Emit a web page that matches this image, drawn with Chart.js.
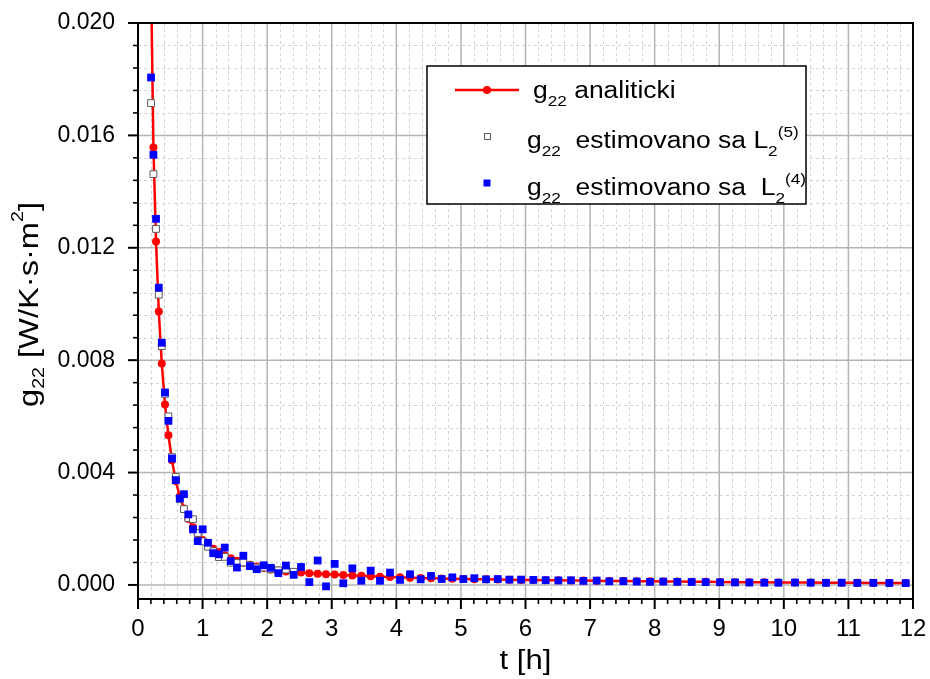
<!DOCTYPE html>
<html>
<head>
<meta charset="utf-8">
<script src="https://cdn.jsdelivr.net/npm/chart.js@4.4.1/dist/chart.umd.min.js"></script>
<style>
  html, body { margin: 0; padding: 0; background: #ffffff; }
  canvas { display: block; }
</style>
</head>
<body>
<canvas id="chart" width="930" height="679"></canvas>
<script>
// Sampling times [h]
const timeH = [
  0.202, 0.239, 0.279, 0.322, 0.368, 0.418, 0.471, 0.526, 0.585, 0.647,
  0.712, 0.780, 0.851, 0.925, 1.002, 1.083, 1.166, 1.253, 1.343, 1.436,
  1.532, 1.631, 1.733, 1.838, 1.947, 2.058, 2.173, 2.290, 2.411, 2.524,
  2.653, 2.782, 2.911, 3.045, 3.179, 3.319, 3.458, 3.603, 3.747, 3.902,
  4.057, 4.212, 4.377, 4.537, 4.702, 4.867, 5.038, 5.208, 5.389, 5.570,
  5.750, 5.931, 6.122, 6.313, 6.509, 6.705, 6.896, 7.102, 7.298, 7.515,
  7.722, 7.928, 8.134, 8.351, 8.573, 8.790, 9.012, 9.244, 9.466, 9.698,
  9.915, 10.173, 10.416, 10.653, 10.896, 11.138, 11.386, 11.634, 11.887
];

// g22 analiticki [W/K·s·m²]
const g22Analytic = [
  0.02150, 0.01557, 0.01222, 0.00973, 0.00788, 0.00642, 0.00533, 0.00444, 0.00370, 0.00315,
  0.00272, 0.00235, 0.00205, 0.00181, 0.00160, 0.00143, 0.00129, 0.00117, 0.00106, 0.00095,
  0.00086, 0.00079, 0.00072, 0.00066, 0.00060, 0.00055, 0.00051, 0.00048, 0.00046, 0.00044,
  0.000420, 0.000400, 0.000385, 0.000370, 0.000355, 0.000340, 0.000325, 0.000310, 0.000295, 0.000280,
  0.000270, 0.000260, 0.000250, 0.000240, 0.000230, 0.000220, 0.000215, 0.000205, 0.000200, 0.000190,
  0.000185, 0.000180, 0.000175, 0.000170, 0.000165, 0.000160, 0.000155, 0.000150, 0.000145, 0.000140,
  0.000135, 0.000130, 0.000125, 0.000120, 0.000115, 0.000110, 0.000105, 0.000100, 0.000097, 0.000094,
  0.000091, 0.000088, 0.000085, 0.000082, 0.000079, 0.000076, 0.000073, 0.000070, 0.000068
];

// g22 estimovano sa L2(5)
const g22EstL5 = [
  0.01715, 0.01462, 0.01267, 0.01033, 0.00850, 0.00680, 0.00600, 0.00455, 0.00385, 0.00305,
  0.00270, 0.00238, 0.00234, 0.00185, 0.00155, 0.00136, 0.00120, 0.00099, 0.00100, 0.00079,
  0.00078, 0.00080, 0.00070, 0.00062, 0.00062, 0.00056, 0.00052, 0.00055, 0.00047
];

// g22 estimovano sa L2(4)
const g22EstL4 = [
  0.01806, 0.01531, 0.01303, 0.01058, 0.00862, 0.00685, 0.00584, 0.00450, 0.00373, 0.00308,
  0.00323, 0.00251, 0.00198, 0.00156, 0.00198, 0.00150, 0.00113, 0.00109, 0.00133, 0.00085,
  0.00062, 0.00104, 0.00067, 0.00056, 0.00070, 0.00061, 0.00042, 0.00069, 0.00036, 0.00064,
  0.000100, 0.000870, -0.000050, 0.000750, 0.000060, 0.000590, 0.000150, 0.000510, 0.000150, 0.000440,
  0.000180, 0.000380, 0.000200, 0.000320, 0.000210, 0.000270, 0.000210, 0.000240, 0.000200, 0.000210,
  0.000190, 0.000190, 0.000180, 0.000170, 0.000160, 0.000165, 0.000145, 0.000155, 0.000130, 0.000135,
  0.000120, 0.000110, 0.000120, 0.000110, 0.000105, 0.000100, 0.000095, 0.000090, 0.000085, 0.000080,
  0.000080, 0.000085, 0.000080, 0.000075, 0.000080, 0.000070, 0.000075, 0.000070, 0.000065
];

const xTickValues = [0, 1, 2, 3, 4, 5, 6, 7, 8, 9, 10, 11, 12];
const yTickValues = [0, 0.004, 0.008, 0.012, 0.016, 0.020];

const FONT = "'Liberation Sans', Arial, Helvetica, sans-serif";
const X_MINOR = 0.2;      // minor step on the time axis
const Y_MINOR = 0.0008;   // minor step on the g22 axis

const toPoints = (values) => values.map((v, i) => ({ x: timeH[i], y: v }));

// Draws a run of text pieces (normal / subscript / superscript) from a baseline origin
function drawRich(ctx, runs, size, stretch) {
  ctx.save();
  ctx.scale(stretch, 1);
  ctx.textBaseline = 'alphabetic';
  ctx.textAlign = 'left';
  let cx = 0;
  for (const r of runs) {
    const fs = r.sub || r.sup ? size * (r.scale || 0.65) : size;
    ctx.font = fs + 'px ' + FONT;
    const dy = r.sub ? size * (r.dy || 0.34) : r.sup ? -size * (r.dy || 0.5) : 0;
    ctx.fillText(r.t, cx, dy);
    cx += ctx.measureText(r.t).width;
  }
  ctx.restore();
}

function richWidth(ctx, runs, size) {
  let w = 0;
  ctx.save();
  for (const r of runs) {
    const fs = r.sub || r.sup ? size * (r.scale || 0.65) : size;
    ctx.font = fs + 'px ' + FONT;
    w += ctx.measureText(r.t).width;
  }
  ctx.restore();
  return w;
}

const frameAndGrid = {
  id: 'frameAndGrid',
  beforeDatasetsDraw(chart) {
    const { ctx, chartArea: a, scales: { x, y } } = chart;
    ctx.save();
    // minor grid, dashed
    ctx.strokeStyle = '#d2d2d2';
    ctx.lineWidth = 1;
    ctx.setLineDash([3, 3]);
    ctx.beginPath();
    for (let i = 1; i < Math.round(12 / X_MINOR); i++) {
      if (i % 5 === 0) continue;
      const px = Math.round(x.getPixelForValue(i * X_MINOR)) + 0.5;
      ctx.moveTo(px, a.top); ctx.lineTo(px, a.bottom);
    }
    for (let j = 1; j < Math.round(0.020 / Y_MINOR); j++) {
      if (j % 5 === 0) continue;
      const py = Math.round(y.getPixelForValue(j * Y_MINOR)) + 0.5;
      ctx.moveTo(a.left, py); ctx.lineTo(a.right, py);
    }
    ctx.stroke();
    // major grid, solid
    ctx.setLineDash([]);
    ctx.strokeStyle = '#b5b5b5';
    ctx.lineWidth = 1.5;
    ctx.beginPath();
    xTickValues.slice(1, -1).forEach(v => {
      const px = x.getPixelForValue(v);
      ctx.moveTo(px, a.top); ctx.lineTo(px, a.bottom);
    });
    yTickValues.slice(0, -1).forEach(v => {
      const py = y.getPixelForValue(v);
      ctx.moveTo(a.left, py); ctx.lineTo(a.right, py);
    });
    ctx.stroke();
    ctx.restore();
  },
  afterDatasetsDraw(chart) {
    const { ctx, chartArea: a, scales: { x, y } } = chart;
    ctx.save();
    // frame
    ctx.strokeStyle = '#000000';
    ctx.lineWidth = 2;
    ctx.strokeRect(a.left, a.top, a.right - a.left, a.bottom - a.top);
    // tick marks on the bottom axis
    for (let i = 0; i <= Math.round(12 / X_MINOR); i++) {
      const major = i % 5 === 0;
      const px = x.getPixelForValue(i * X_MINOR);
      ctx.lineWidth = major ? 2 : 1.6;
      ctx.beginPath();
      ctx.moveTo(px, a.bottom); ctx.lineTo(px, a.bottom + (major ? 10 : 5));
      ctx.stroke();
    }
    // tick marks on the left axis
    for (let j = 0; j <= Math.round(0.020 / Y_MINOR); j++) {
      const major = j % 5 === 0;
      const py = y.getPixelForValue(j * Y_MINOR);
      ctx.lineWidth = major ? 2 : 1.6;
      ctx.beginPath();
      ctx.moveTo(a.left, py); ctx.lineTo(a.left - (major ? 10 : 5), py);
      ctx.stroke();
    }

    // legend
    const lx = 427, ly = 66, lw = 379, lh = 138;
    ctx.fillStyle = '#ffffff';
    ctx.fillRect(lx, ly, lw, lh);
    ctx.lineWidth = 1.5;
    ctx.strokeStyle = '#000000';
    ctx.strokeRect(lx, ly, lw, lh);

    const ds = chart.data.datasets;
    // row 1: line with dot
    ctx.strokeStyle = ds[0].borderColor;
    ctx.lineWidth = 2.5;
    ctx.beginPath(); ctx.moveTo(455, 90); ctx.lineTo(519, 90); ctx.stroke();
    ctx.fillStyle = ds[0].pointBackgroundColor;
    ctx.beginPath(); ctx.arc(487, 90, 4, 0, Math.PI * 2); ctx.fill();
    // row 2: open square
    ctx.fillStyle = ds[1].pointBackgroundColor;
    ctx.strokeStyle = ds[1].pointBorderColor;
    ctx.lineWidth = 1;
    ctx.fillRect(484, 133, 7, 7);
    ctx.strokeRect(484.5, 133.5, 6, 6);
    // row 3: filled square
    ctx.fillStyle = ds[2].pointBackgroundColor;
    ctx.fillRect(483.5, 179.5, 7, 7);

    ctx.fillStyle = '#000000';
    const S = 23, ST = 1.15;
    ctx.save(); ctx.translate(533, 98);
    drawRich(ctx, [{ t: 'g' }, { t: '22', sub: true }, { t: ' analiticki' }], S, ST);
    ctx.restore();
    ctx.save(); ctx.translate(527, 148);
    drawRich(ctx, [{ t: 'g' }, { t: '22', sub: true }, { t: '  estimovano sa L' }, { t: '2', sub: true }, { t: '(5)', sup: true }], S, ST);
    ctx.restore();
    ctx.save(); ctx.translate(527, 195);
    drawRich(ctx, [{ t: 'g' }, { t: '22', sub: true }, { t: '  estimovano sa  L' }, { t: '2', sub: true }, { t: '(4)', sup: true }], S, ST);
    ctx.restore();

    // y axis title
    const yTitle = [{ t: 'g' }, { t: '22', sub: true, scale: 0.6, dy: 0.2 }, { t: ' [W/K·s·m' }, { t: '2', sup: true, scale: 0.6, dy: 0.55 }, { t: ']' }];
    const ySize = 28;
    const yLen = 205;
    const ySt = yLen / richWidth(ctx, yTitle, ySize);
    ctx.save();
    ctx.translate(38, 407);
    ctx.rotate(-Math.PI / 2);
    drawRich(ctx, yTitle, ySize, ySt);
    ctx.restore();

    // x axis title
    const xTitle = [{ t: 't [h]' }];
    const xSize = 27;
    const xw = richWidth(ctx, xTitle, xSize) * ST;
    ctx.save();
    ctx.translate((a.left + a.right) / 2 - xw / 2, 669);
    drawRich(ctx, xTitle, xSize, ST);
    ctx.restore();

    ctx.restore();
  }
};

const zeroPad = (scale) => {
  scale.paddingTop = 0; scale.paddingBottom = 0;
  scale.paddingLeft = 0; scale.paddingRight = 0;
};

new Chart(document.getElementById('chart'), {
  type: 'scatter',
  data: {
    datasets: [
      {
        label: 'g22 analiticki',
        data: toPoints(g22Analytic),
        showLine: true,
        borderColor: '#ff0000',
        borderWidth: 2.5,
        pointRadius: 4,
        pointBackgroundColor: '#ff0000',
        pointBorderWidth: 0,
        tension: 0,
        order: 3,
        clip: 0
      },
      {
        label: 'g22 estimovano sa L2(5)',
        data: toPoints(g22EstL5),
        showLine: false,
        pointStyle: 'rect',
        pointRadius: 4.8,
        pointBackgroundColor: '#ffffff',
        pointBorderColor: '#5a5a5a',
        pointBorderWidth: 1,
        order: 2,
        clip: 0
      },
      {
        label: 'g22 estimovano sa L2(4)',
        data: toPoints(g22EstL4),
        showLine: false,
        pointStyle: 'rect',
        pointRadius: 5.5,
        pointBackgroundColor: '#0000ff',
        pointBorderColor: '#0000ff',
        pointBorderWidth: 0,
        order: 1,
        clip: 0
      }
    ]
  },
  options: {
    responsive: false,
    animation: false,
    devicePixelRatio: 1,
    layout: { padding: { left: 0, right: 17, top: 23, bottom: 0 } },
    plugins: { legend: { display: false }, tooltip: { enabled: false } },
    scales: {
      x: {
        type: 'linear',
        position: 'bottom',
        min: 0,
        max: 12,
        afterBuildTicks: (scale) => { scale.ticks = xTickValues.map(v => ({ value: v })); },
        afterFit: (scale) => { scale.height = 80; zeroPad(scale); },
        ticks: {
          autoSkip: false,
          maxRotation: 0,
          padding: 6,
          color: '#000000',
          font: { family: FONT, size: 24 },
          callback: (v) => String(v)
        },
        grid: { drawOnChartArea: false, drawTicks: true, tickLength: 10, color: 'rgba(0,0,0,0)', tickColor: 'rgba(0,0,0,0)' },
        border: { display: false }
      },
      y: {
        type: 'linear',
        position: 'left',
        min: -0.0005,
        max: 0.020,
        afterBuildTicks: (scale) => { scale.ticks = yTickValues.map(v => ({ value: v })); },
        afterFit: (scale) => { scale.width = 138; zeroPad(scale); },
        ticks: {
          autoSkip: false,
          padding: 13,
          color: '#000000',
          font: { family: FONT, size: 23 },
          callback: (v) => Number(v).toFixed(3)
        },
        grid: { drawOnChartArea: false, drawTicks: true, tickLength: 10, color: 'rgba(0,0,0,0)', tickColor: 'rgba(0,0,0,0)' },
        border: { display: false }
      }
    }
  },
  plugins: [frameAndGrid]
});
</script>
</body>
</html>
